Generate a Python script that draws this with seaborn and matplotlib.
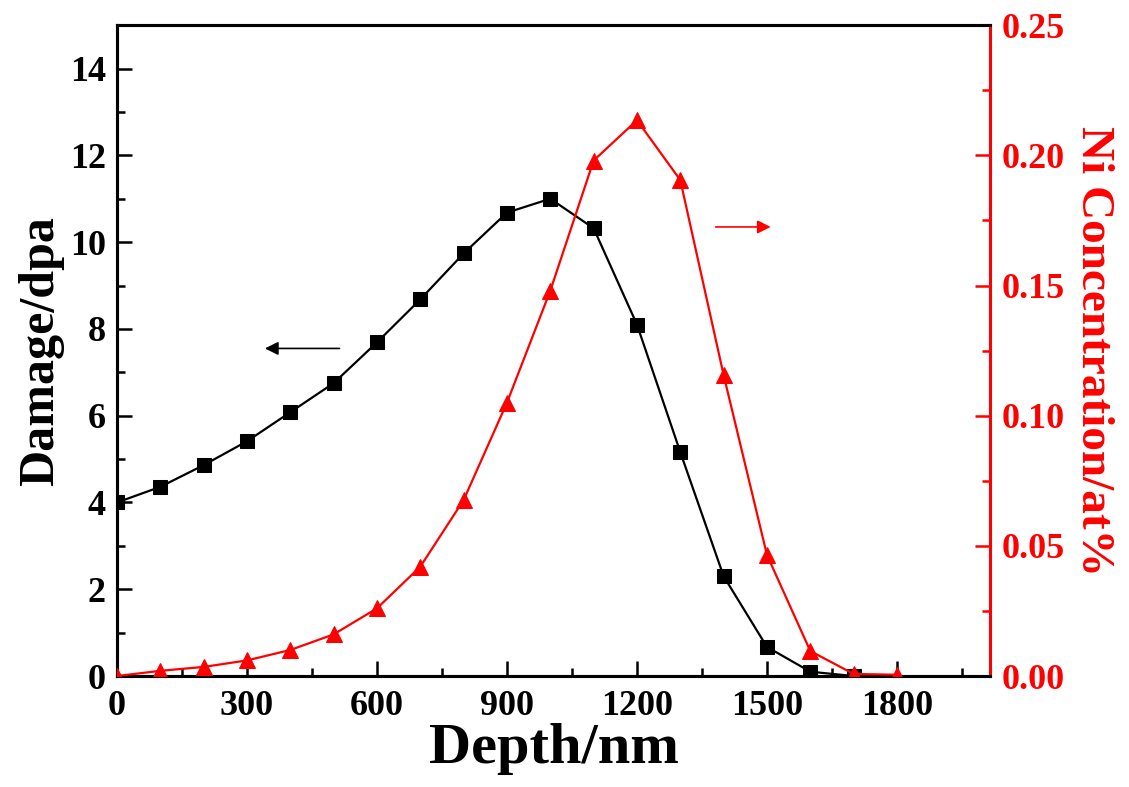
import numpy as np
import pandas as pd
import matplotlib
matplotlib.use("Agg")
import matplotlib.pyplot as plt
from matplotlib.ticker import MultipleLocator
import seaborn as sns

# values
depth_dmg = [0, 100, 200, 300, 400, 500, 600, 700, 800, 900, 1000, 1100, 1200, 1300, 1400, 1500, 1600, 1700]
damage = [4.0, 4.36, 4.86, 5.41, 6.08, 6.75, 7.69, 8.68, 9.74, 10.68, 11.0, 10.32, 8.1, 5.16, 2.3, 0.67, 0.1, 0.0]

depth_ni = [0, 100, 200, 300, 400, 500, 600, 700, 800, 900, 1000, 1100, 1200, 1300, 1400, 1500, 1600, 1700, 1800]
ni_conc = [0.0, 0.002, 0.0035, 0.006, 0.010, 0.016, 0.026, 0.042, 0.0676, 0.105, 0.148, 0.198, 0.2135,
           0.1905, 0.1156, 0.0465, 0.0096, 0.0008, 0.0005]

x_ticks = [0, 300, 600, 900, 1200, 1500, 1800]

sns.set_style("ticks")
plt.rcParams['font.family'] = ['Liberation Serif', 'DejaVu Serif']
plt.rcParams['font.weight'] = 'bold'
plt.rcParams['text.color'] = 'black'
plt.rcParams['axes.labelcolor'] = 'black'

red = '#ff0000'
fig = plt.figure(figsize=(11.29, 7.87), dpi=100)
ax = fig.add_axes([0.1036, 0.141, 0.877 - 0.1036, 0.968 - 0.141])
ax2 = ax.twinx()

df1 = pd.DataFrame({'depth': depth_dmg, 'damage': damage})
df2 = pd.DataFrame({'depth': depth_ni, 'ni': ni_conc})

sns.lineplot(data=df1, x='depth', y='damage', ax=ax, color='black', marker='s',
             markersize=10, markeredgecolor='black', linewidth=1.6, zorder=3)
sns.lineplot(data=df2, x='depth', y='ni', ax=ax2, color=red, marker='^',
             markersize=12, markeredgecolor=red, linewidth=1.6, zorder=3)

ax.set_xlim(0, 2015)
ax.set_ylim(0, 15)
ax2.set_ylim(0, 0.25)
ax.set_xticks(x_ticks)
ax.xaxis.set_minor_locator(MultipleLocator(150))
ax.yaxis.set_major_locator(MultipleLocator(2))
ax.yaxis.set_minor_locator(MultipleLocator(1))
ax2.yaxis.set_major_locator(MultipleLocator(0.05))
ax2.yaxis.set_minor_locator(MultipleLocator(0.025))
ax2.set_yticklabels([f'{v:.2f}' for v in ax2.get_yticks()])

for a in (ax, ax2):
    a.tick_params(which='major', direction='in', length=11, width=1.8, labelsize=26)
    a.tick_params(which='minor', direction='in', length=6, width=1.8)
    for s in a.spines.values():
        s.set_linewidth(2.2)
        s.set_visible(True)
        s.set_color('black')

ax.tick_params(axis='both', which='both', colors='black')
ax.tick_params(axis='x', pad=10)
ax.tick_params(axis='y', pad=8)
ax2.tick_params(axis='y', which='both', colors=red, pad=8)
ax2.spines['right'].set_color(red)
ax.spines['right'].set_visible(False)
for lab in ax.get_xticklabels() + ax.get_yticklabels() + ax2.get_yticklabels():
    lab.set_fontweight('bold')

ax.set_xlabel('Depth/nm', fontsize=42, fontweight='bold', labelpad=0, color='black')
ax.set_ylabel('Damage/dpa', fontsize=36, fontweight='bold', labelpad=4, color='black')
ax2.set_ylabel('Ni Concentration/at%', fontsize=34, fontweight='bold', color=red,
               rotation=-90, labelpad=36)

ax.annotate('', xy=(335, 7.55), xytext=(520, 7.55),
            arrowprops=dict(arrowstyle='-|>', color='black', lw=1.2, mutation_scale=20))
ax2.annotate('', xy=(1515, 0.1725), xytext=(1375, 0.1725),
             arrowprops=dict(arrowstyle='-|>', color=red, lw=1.2, mutation_scale=20))

fig.savefig('out.png', dpi=100)
